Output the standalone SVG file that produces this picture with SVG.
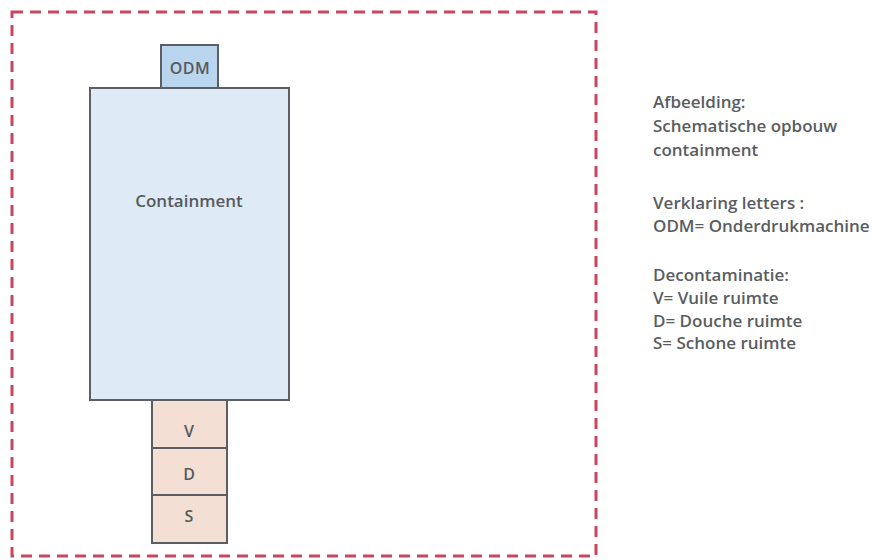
<svg xmlns="http://www.w3.org/2000/svg" width="872" height="560" viewBox="0 0 872 560">
<style>
.box{stroke:#5b5f64;stroke-width:2}
.lbl{font-family:"Open Sans","Liberation Sans",sans-serif;font-weight:600;fill:#555a5e;text-anchor:middle}
.note{font-family:"Open Sans","Liberation Sans",sans-serif;font-weight:600;fill:#595d61;font-size:17px}
</style>
<rect width="872" height="560" fill="#ffffff"/>
<rect id="frame" x="12" y="12" width="584" height="544" fill="none" stroke="#c8475f" stroke-width="3" stroke-dasharray="11 7"/>
<g id="containment">
<rect class="box" x="90" y="88" width="199" height="312" fill="#deeaf6"/>
<text class="lbl" x="189" y="207" font-size="17">Containment</text>
</g>
<g id="odm">
<rect class="box" x="161" y="45" width="57" height="43" fill="#bad5ee"/>
<text class="lbl" x="190" y="74" font-size="16" letter-spacing="0.5">ODM</text>
</g>
<g id="v">
<rect class="box" x="152" y="400" width="75" height="48" fill="#f3dfd4"/>
<text class="lbl" x="189" y="437" font-size="16">V</text>
</g>
<g id="d">
<rect class="box" x="152" y="448" width="75" height="47" fill="#f3dfd4"/>
<text class="lbl" x="189" y="480" font-size="16">D</text>
</g>
<g id="s">
<rect class="box" x="152" y="495" width="75" height="48" fill="#f3dfd4"/>
<text class="lbl" x="189" y="522" font-size="16">S</text>
</g>
<g id="connectors"/>
<g id="legend">
<text class="note" x="653" y="108">Afbeelding:</text>
<text class="note" x="653" y="132">Schematische opbouw</text>
<text class="note" x="653" y="156">containment</text>
<text class="note" x="653" y="209">Verklaring letters :</text>
<text class="note" x="653" y="232">ODM= Onderdrukmachine</text>
<text class="note" x="653" y="281">Decontaminatie:</text>
<text class="note" x="653" y="304">V= Vuile ruimte</text>
<text class="note" x="653" y="327">D= Douche ruimte</text>
<text class="note" x="653" y="349">S= Schone ruimte</text>
</g>
</svg>
